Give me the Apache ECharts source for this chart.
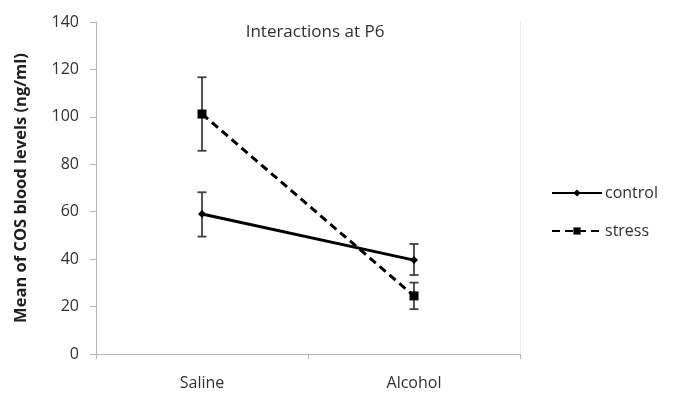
<!DOCTYPE html>
<html><head><meta charset="utf-8">
<script src="https://cdn.jsdelivr.net/npm/echarts@6/dist/echarts.min.js"></script>
<style>html,body{margin:0;padding:0;background:#fff}#c{width:674px;height:395px}</style>
</head><body><div id="c"></div>
<script>
const categories = ['Saline', 'Alcohol'];
const controlMean = [59.0, 39.6];
const controlLow = [49.5, 33.3];
const controlHigh = [68.2, 46.4];
const stressMean = [101.2, 24.5];
const stressLow = [85.7, 18.9];
const stressHigh = [116.7, 30.1];
const yTicks = [0, 20, 40, 60, 80, 100, 120, 140];

const font = 'Open Sans';
const chart = echarts.init(document.getElementById('c'), null, {renderer: 'canvas'});

function errData(low, high) {
  return categories.map((c, i) => [i, low[i], high[i]]);
}
function errRender(params, api) {
  const x = api.value(0);
  const lo = api.coord([x, api.value(1)]);
  const hi = api.coord([x, api.value(2)]);
  const w = 4.5;
  const st = {stroke: '#404040', lineWidth: 1.8};
  return {type: 'group', children: [
    {type: 'line', shape: {x1: lo[0], y1: lo[1], x2: hi[0], y2: hi[1]}, style: st},
    {type: 'line', shape: {x1: lo[0]-w, y1: lo[1], x2: lo[0]+w, y2: lo[1]}, style: st},
    {type: 'line', shape: {x1: hi[0]-w, y1: hi[1], x2: hi[0]+w, y2: hi[1]}, style: st}
  ]};
}

chart.setOption({
  animation: false,
  backgroundColor: '#fff',
  title: {
    text: 'Interactions at P6', left: 310, top: 19, textAlign: 'center',
    textStyle: {fontFamily: font, fontSize: 17, fontWeight: 'normal', color: '#303030'}
  },
  legend: {
    orient: 'vertical', left: 551, top: 185, padding: 0, itemWidth: 50, itemHeight: 9, itemGap: 22,
    data: ['control', 'stress'],
    textStyle: {fontFamily: font, fontSize: 16, color: '#303030', padding: [0, 0, 0, -2]}
  },
  grid: {left: 96, right: 154, top: 22, bottom: 41, containLabel: false},
  xAxis: {
    type: 'category', data: categories, boundaryGap: true,
    axisLine: {lineStyle: {color: '#b5b5b5', width: 1}},
    axisTick: {show: true, length: 5, lineStyle: {color: '#b5b5b5'}},
    axisLabel: {fontFamily: font, fontSize: 16, color: '#303030', margin: 21}
  },
  yAxis: [{
    type: 'value', min: 0, max: 140, interval: 20,
    name: 'Mean of COS blood levels (ng/ml)', nameLocation: 'middle', nameGap: 66,
    nameTextStyle: {fontFamily: font, fontSize: 16.5, fontWeight: 'bold', color: '#202020'},
    axisLine: {show: true, lineStyle: {color: '#b5b5b5'}},
    axisTick: {show: true, length: 6, lineStyle: {color: '#b5b5b5'}},
    splitLine: {show: false},
    axisLabel: {fontFamily: font, fontSize: 16, color: '#303030', margin: 17,
      formatter: v => yTicks.includes(v) ? String(v) : ''}
  }, {
    type: 'value', min: 0, max: 140, interval: 20, position: 'right',
    axisLine: {show: true, lineStyle: {color: '#ececec'}},
    axisTick: {show: false}, axisLabel: {show: false}, splitLine: {show: false}
  }],
  series: [
    {name: 'control', type: 'line', data: controlMean, symbol: 'diamond', symbolSize: 8,
     lineStyle: {color: '#000', width: 3}, itemStyle: {color: '#000'}, z: 3},
    {name: 'stress', type: 'line', data: stressMean, symbol: 'rect', symbolSize: 9,
     lineStyle: {color: '#000', width: 3, type: [8, 5]}, itemStyle: {color: '#000'}, z: 3},
    {type: 'custom', renderItem: errRender, data: errData(controlLow, controlHigh), z: 2, silent: true},
    {type: 'custom', renderItem: errRender, data: errData(stressLow, stressHigh), z: 2, silent: true}
  ]
});
</script></body></html>
